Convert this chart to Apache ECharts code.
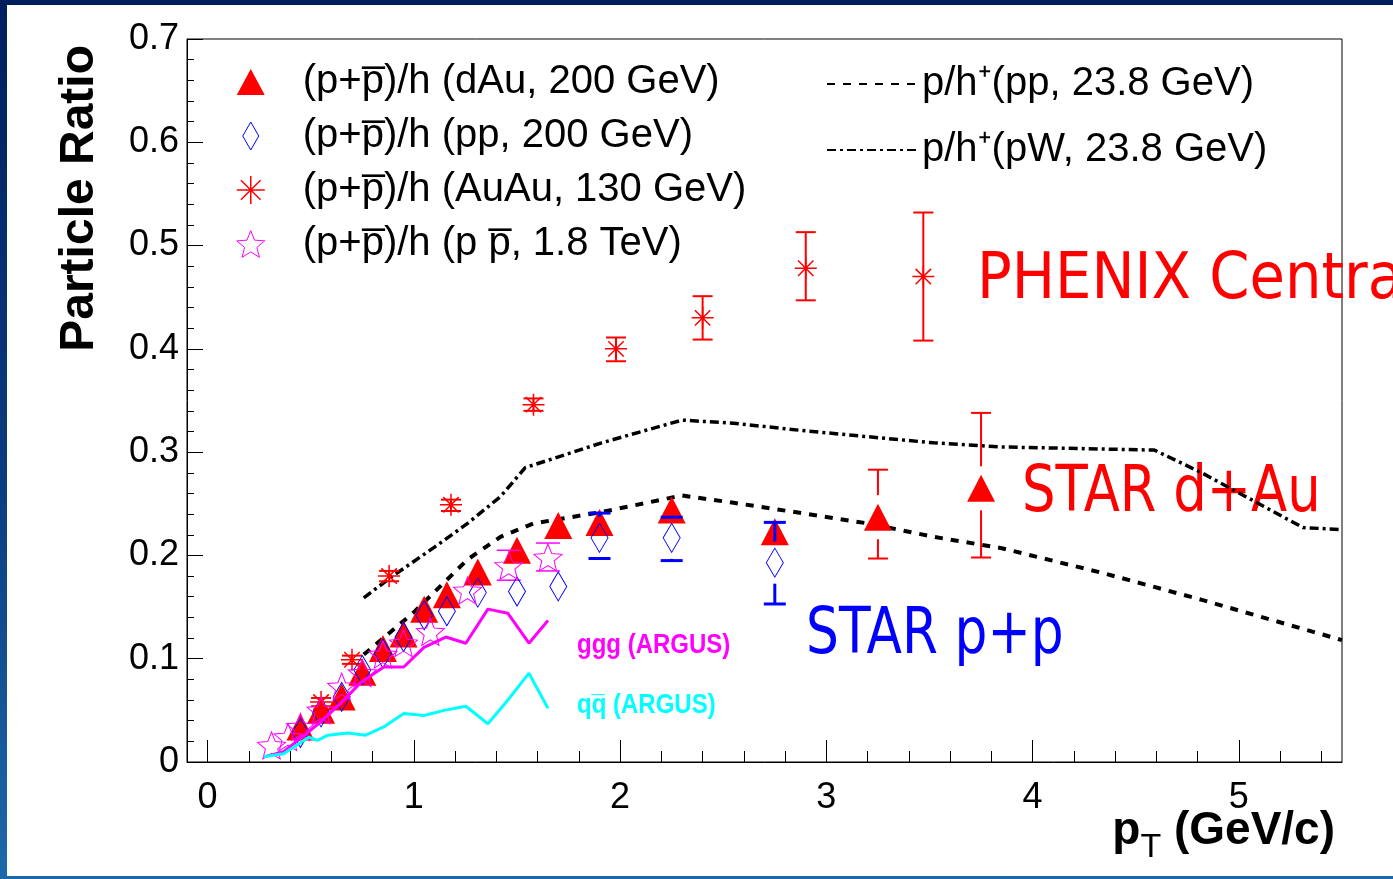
<!DOCTYPE html>
<html><head><meta charset="utf-8">
<script src="https://cdn.jsdelivr.net/npm/echarts@6/dist/echarts.min.js"></script>
<style>
html,body{margin:0;padding:0;background:#fff;}
#wrap{position:relative;width:1393px;height:879px;background:linear-gradient(180deg,#001f5c 0%,#0b3c80 55%,#1d68ab 100%);overflow:hidden;}
#chart{position:absolute;left:7px;top:5px;width:1386px;height:871px;background:#fff;}
</style></head><body><div id="wrap"><div id="chart"></div></div>
<script>
// ---------- data ----------
var dauX = [0.45, 0.55, 0.65, 0.75, 0.85, 0.95, 1.05, 1.16, 1.31, 1.50, 1.70, 1.90, 2.25, 2.75, 3.25, 3.75];
var dauY = [0.034, 0.050, 0.063, 0.087, 0.110, 0.124, 0.148, 0.162, 0.184, 0.205, 0.229, 0.232, 0.244, 0.223, 0.237, 0.265];
var dauErrX = [3.25, 3.75];
var dauErrLo = [0.197, 0.198];
var dauErrHi = [0.283, 0.338];
var dauErrC = [0.237, 0.265];

var ppX = [0.45, 0.55, 0.65, 0.75, 0.85, 0.95, 1.05, 1.16, 1.31, 1.50, 1.70, 1.90, 2.25, 2.75];
var ppY = [0.028, 0.048, 0.063, 0.089, 0.105, 0.121, 0.142, 0.146, 0.164, 0.165, 0.170, 0.217, 0.217, 0.193];
var ppErrX = [1.90, 2.25, 2.75];
var ppErrLo = [0.197, 0.195, 0.153];
var ppErrHi = [0.241, 0.237, 0.232];
var ppErrC = [0.217, 0.217, 0.193];

var auX = [0.55, 0.70, 0.88, 1.18, 1.58, 1.98, 2.40, 2.90, 3.47];
var auY = [0.058, 0.099, 0.180, 0.249, 0.346, 0.400, 0.430, 0.478, 0.470];
var auLo = [0.054, 0.095, 0.175, 0.243, 0.340, 0.388, 0.409, 0.447, 0.408];
var auHi = [0.062, 0.103, 0.185, 0.254, 0.352, 0.411, 0.451, 0.513, 0.532];

var ppbX = [0.31, 0.39, 0.45, 0.55, 0.65, 0.75, 0.85, 0.95, 1.08, 1.26, 1.46, 1.65];
var ppbY = [0.016, 0.024, 0.034, 0.050, 0.073, 0.086, 0.104, 0.115, 0.126, 0.166, 0.190, 0.198];
var ppbErrX = [1.46, 1.65];
var ppbErrLo = [0.176, 0.185];
var ppbErrHi = [0.205, 0.212];
var ppbErrC = [0.190, 0.198];

var pp238X = [0.757, 1.00, 1.26, 1.42, 1.58, 1.91, 2.30, 2.55, 2.88, 3.20, 3.52, 3.85, 4.34, 4.82, 5.50];
var pp238Y = [0.104, 0.145, 0.196, 0.218, 0.231, 0.242, 0.258, 0.251, 0.241, 0.231, 0.218, 0.207, 0.183, 0.157, 0.118];

var pWX = [0.757, 0.89, 1.10, 1.26, 1.42, 1.54, 1.91, 2.30, 2.55, 2.88, 3.20, 3.52, 3.85, 4.59, 4.82, 5.31, 5.50];
var pWY = [0.159, 0.179, 0.208, 0.231, 0.257, 0.285, 0.309, 0.331, 0.328, 0.321, 0.315, 0.309, 0.305, 0.302, 0.280, 0.227, 0.225];

var gggX = [0.272, 0.369, 0.451, 0.549, 0.646, 0.743, 0.854, 0.951, 1.049, 1.155, 1.252, 1.359, 1.456, 1.558, 1.650];
var gggY = [0.005, 0.010, 0.023, 0.039, 0.057, 0.077, 0.092, 0.092, 0.111, 0.121, 0.115, 0.148, 0.144, 0.115, 0.137];

var qqX = [0.272, 0.369, 0.490, 0.534, 0.583, 0.680, 0.767, 0.854, 0.951, 1.049, 1.146, 1.252, 1.359, 1.456, 1.558, 1.650];
var qqY = [0.005, 0.008, 0.024, 0.021, 0.026, 0.028, 0.026, 0.034, 0.047, 0.045, 0.050, 0.054, 0.037, 0.060, 0.086, 0.052];

var xMajorTicks = [0, 1, 2, 3, 4, 5];
var xMinorTicks = [];
for (var t = 2; t <= 54; t += 2) { if (t % 10 !== 0) xMinorTicks.push(t / 10); }

var names = [
  '(p+p\u0305)/h (dAu, 200 GeV)',
  '(p+p\u0305)/h (pp, 200 GeV)',
  '(p+p\u0305)/h (AuAu, 130 GeV)',
  '(p+p\u0305)/h (p p\u0305, 1.8 TeV)',
  'p/h\u207A(pp, 23.8 GeV)',
  'p/h\u207A(pW, 23.8 GeV)'
];

// ---------- helpers ----------
function zip(xs, ys) { return xs.map(function (x, i) { return [x, ys[i]]; }); }
var FONT = 'Liberation Sans, Arial, Helvetica, sans-serif';
var ANN = 'DejaVu Sans, Verdana, sans-serif';
var TRI = 'path://M14,0L28,26L0,26Z';
var DIA = 'path://M8,0L16,14L8,28L0,14Z';
var AST = 'path://M10,0L10,20M0,10L20,10M3,3L17,17M17,3L3,17';
var STAR = 'path://M50,0L62.93,32.2L97.55,34.55L70.92,56.8L79.39,90.45L50,72L20.61,90.45L29.08,56.8L2.45,34.55L37.07,32.2Z';

function errSeries(xs, lo, hi, cs, color, capW, lw, gap) {
  return {
    type: 'custom', silent: true, z: 4,
    renderItem: function (params, api) {
      var x = api.value(0);
      var pHi = api.coord([x, api.value(2)]);
      var pLo = api.coord([x, api.value(1)]);
      var pC = api.coord([x, api.value(3)]);
      var st = { stroke: color, lineWidth: lw };
      var ch = [
        { type: 'line', shape: { x1: pHi[0] - capW / 2, y1: pHi[1], x2: pHi[0] + capW / 2, y2: pHi[1] }, style: st },
        { type: 'line', shape: { x1: pLo[0] - capW / 2, y1: pLo[1], x2: pLo[0] + capW / 2, y2: pLo[1] }, style: st }
      ];
      if (pC[1] - gap > pHi[1]) ch.push({ type: 'line', shape: { x1: pC[0], y1: pHi[1], x2: pC[0], y2: pC[1] - gap }, style: st });
      if (pC[1] + gap < pLo[1]) ch.push({ type: 'line', shape: { x1: pC[0], y1: pC[1] + gap, x2: pC[0], y2: pLo[1] }, style: st });
      return { type: 'group', children: ch };
    },
    encode: { x: 0, y: [1, 2] },
    data: xs.map(function (x, i) { return [x, lo[i], hi[i], cs[i]]; })
  };
}

var chart = echarts.init(document.getElementById('chart'), null, { renderer: 'canvas' });
var option = {
  animation: false,
  backgroundColor: '#fff',
  grid: { left: 180, right: 51, top: 34, bottom: 114, show: true, borderColor: '#000', borderWidth: 1, containLabel: false },
  xAxis: [
    {
      type: 'value', min: -0.1, max: 5.5,
      axisLine: { show: true, onZero: false, lineStyle: { color: '#000', width: 1 } },
      axisTick: { show: true, inside: true, length: 22, customValues: xMajorTicks, lineStyle: { color: '#000', width: 1 } },
      axisLabel: { show: true, customValues: xMajorTicks, fontSize: 36, color: '#000', fontFamily: FONT, margin: 18 },
      splitLine: { show: false }
    },
    {
      type: 'value', min: -0.1, max: 5.5, position: 'bottom',
      axisLine: { show: false },
      axisTick: { show: true, inside: true, length: 11, customValues: xMinorTicks, lineStyle: { color: '#000', width: 1 } },
      axisLabel: { show: false },
      splitLine: { show: false }
    }
  ],
  yAxis: {
    type: 'value', min: 0, max: 0.7, interval: 0.1,
    axisLine: { show: true, onZero: false, lineStyle: { color: '#000', width: 1 } },
    axisTick: { show: true, inside: true, length: 16, lineStyle: { color: '#000', width: 1 } },
    minorTick: { show: true, splitNumber: 5, length: 7, lineStyle: { color: '#000', width: 1 } },
    axisLabel: { fontSize: 36, color: '#000', fontFamily: FONT, margin: 8 },
    splitLine: { show: false }
  },
  legend: [
    {
      orient: 'vertical', left: 224, top: 52, itemWidth: 28, itemHeight: 28, itemGap: 14,
      selectedMode: false,
      textStyle: { fontSize: 40, lineHeight: 40, color: '#000', fontFamily: FONT, padding: [0, 0, 0, 33] },
      data: [
        { name: names[0], icon: TRI },
        { name: names[1], icon: DIA, itemStyle: { color: 'rgba(0,0,0,0)', borderColor: '#0000ff', borderWidth: 1 } },
        { name: names[2], icon: AST, itemStyle: { color: 'rgba(0,0,0,0)', borderColor: '#ff0000', borderWidth: 1.5 } },
        { name: names[3], icon: STAR, itemStyle: { color: 'rgba(0,0,0,0)', borderColor: '#ff00ff', borderWidth: 1 } }
      ]
    },
    {
      orient: 'vertical', left: 814, top: 54, itemWidth: 90, itemHeight: 14, itemGap: 26,
      selectedMode: false,
      lineStyle: { width: 2 },
      itemStyle: { opacity: 0 },
      textStyle: { fontSize: 40, lineHeight: 40, color: '#000', fontFamily: FONT },
      data: [names[4], names[5]]
    }
  ],
  series: [
    { name: names[4], type: 'line', data: zip(pp238X, pp238Y), symbol: 'none', z: 2,
      itemStyle: { color: '#000' },
      lineStyle: { color: '#000', width: 4, type: [8, 8] } },
    { name: names[5], type: 'line', data: zip(pWX, pWY), symbol: 'none', z: 2,
      itemStyle: { color: '#000' },
      lineStyle: { color: '#000', width: 3.5, type: [9, 4, 3, 4] } },
    { name: 'ggg', type: 'line', data: zip(gggX, gggY), symbol: 'none', z: 6,
      lineStyle: { color: '#ff00ff', width: 3 } },
    { name: 'qq', type: 'line', data: zip(qqX, qqY), symbol: 'none', z: 6,
      lineStyle: { color: '#00ffff', width: 3 } },
    { name: names[0], type: 'scatter', data: zip(dauX, dauY), symbol: TRI, symbolSize: [28, 27], z: 3,
      itemStyle: { color: '#ff0000', opacity: 1 } },
    { name: names[1], type: 'scatter', data: zip(ppX, ppY), symbol: DIA, symbolSize: [17, 29], z: 5,
      itemStyle: { color: 'rgba(0,0,0,0)', borderColor: '#0000ff', borderWidth: 1, opacity: 1 } },
    { name: names[2], type: 'scatter', data: zip(auX, auY), symbol: AST, symbolSize: [22, 22], z: 5,
      itemStyle: { color: 'rgba(0,0,0,0)', borderColor: '#ff0000', borderWidth: 1.5, opacity: 1 } },
    { name: names[3], type: 'scatter', data: zip(ppbX, ppbY), symbol: STAR, symbolSize: [28, 27], z: 5,
      itemStyle: { color: 'rgba(0,0,0,0)', borderColor: '#ff00ff', borderWidth: 1, opacity: 1 } },
    errSeries(dauErrX, dauErrLo, dauErrHi, dauErrC, '#ff0000', 20, 2, 22),
    errSeries(ppErrX, ppErrLo, ppErrHi, ppErrC, '#0000ff', 22, 3, 21),
    errSeries(auX, auLo, auHi, auY, '#ff0000', 20, 2, 0),
    errSeries(ppbErrX, ppbErrLo, ppbErrHi, ppbErrC, '#ff00ff', 24, 1.5, 14)
  ],
  graphic: [
    { type: 'text', x: 73, y: 40, rotation: Math.PI / 2, silent: true,
      style: { text: 'Particle Ratio', font: 'bold 48px ' + FONT, fill: '#000', textAlign: 'right', textVerticalAlign: 'middle' } },
    { type: 'text', x: 1328, y: 826, silent: true,
      style: { text: '{b|p}{s|T}{b| (GeV/c)}', textAlign: 'right', textVerticalAlign: 'middle', fill: '#000',
        rich: { b: { fontSize: 46, fontWeight: 'bold', fontFamily: FONT, fill: '#000' },
                s: { fontSize: 34, fontFamily: FONT, fill: '#000', verticalAlign: 'bottom', padding: [34, 0, 0, 0] } } } },
    { type: 'text', x: 570, y: 640, scaleY: 1.15, silent: true,
      style: { text: 'ggg (ARGUS)', font: 'bold 24px ' + FONT, fill: '#ff00ff', textVerticalAlign: 'middle' } },
    { type: 'text', x: 570, y: 700, scaleY: 1.15, silent: true,
      style: { text: 'qq\u0305 (ARGUS)', font: 'bold 24px ' + FONT, fill: '#00ffff', textVerticalAlign: 'middle' } },
    { type: 'text', x: 970, y: 276, scaleX: 0.9, silent: true,
      style: { text: 'PHENIX Central', font: '64px ' + ANN, fill: '#ff0000', textVerticalAlign: 'middle' } },
    { type: 'text', x: 1015, y: 489, scaleX: 0.825, silent: true,
      style: { text: 'STAR d+Au', font: '64px ' + ANN, fill: '#ff0000', textVerticalAlign: 'middle' } },
    { type: 'text', x: 799, y: 631, scaleX: 0.81, silent: true,
      style: { text: 'STAR p+p', font: '64px ' + ANN, fill: '#0000ff', textVerticalAlign: 'middle' } }
  ]
};
chart.setOption(option);
</script>
</body></html>
